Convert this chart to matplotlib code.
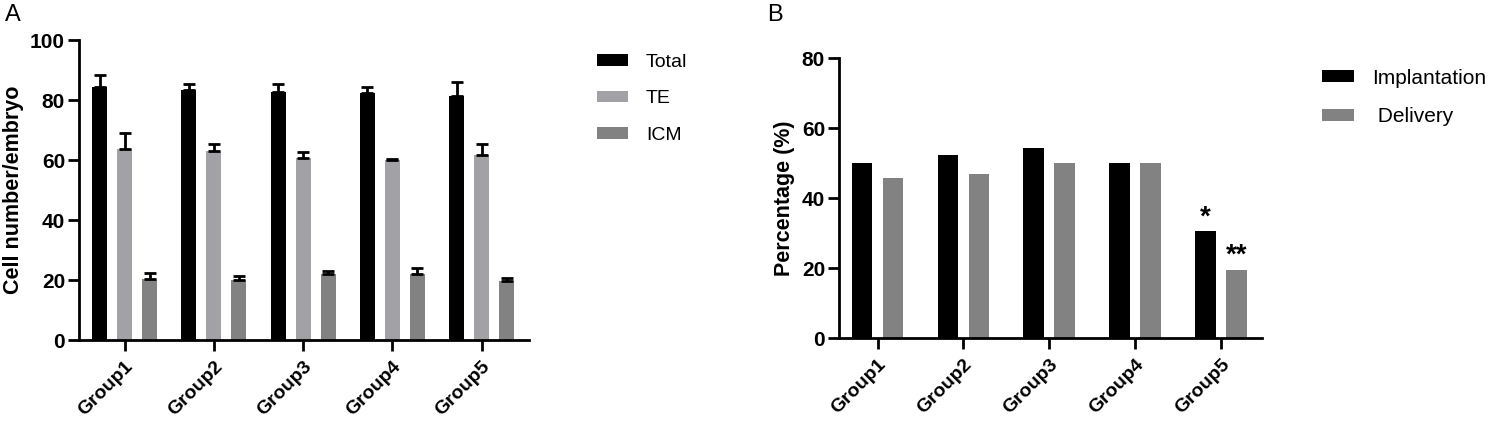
import numpy as np
import matplotlib
matplotlib.use('Agg')
import matplotlib.pyplot as plt

plt.rcParams['font.family'] = ['Liberation Sans', 'DejaVu Sans']

# panel A data
groups = ['Group1', 'Group2', 'Group3', 'Group4', 'Group5']
total = [84.4, 83.2, 82.8, 82.2, 81.5]
total_err = [4.1, 2.3, 2.5, 2.3, 4.6]
te = [63.7, 62.9, 60.6, 59.9, 61.6]
te_err = [5.4, 2.5, 2.1, 0.5, 3.8]
icm = [20.3, 20.1, 21.9, 22.1, 19.7]
icm_err = [2.0, 1.1, 1.0, 2.0, 0.9]

# panel B data
implantation = [50.0, 52.2, 54.2, 50.0, 30.5]
delivery = [45.6, 46.8, 50.0, 50.0, 19.4]
marks_impl = ['', '', '', '', '*']
marks_deliv = ['', '', '', '', '**']

BLACK = '#000000'
LIGHT = '#a2a2a6'
MID = '#828282'

fig = plt.figure(figsize=(14.96, 4.24), dpi=100)
axA = fig.add_axes([0.0528, 0.1981, 0.3008, 0.7075])
axB = fig.add_axes([0.5608, 0.2028, 0.2828, 0.6604])


def style_axis(ax):
    for s in ['top', 'right']:
        ax.spines[s].set_visible(False)
    for s in ['left', 'bottom']:
        ax.spines[s].set_linewidth(2)
    ax.tick_params(axis='both', width=2, length=8, direction='out')
    ax.tick_params(axis='y', labelsize=15, pad=2)
    ax.tick_params(axis='x', labelsize=14, pad=5)
    for lbl in ax.get_yticklabels():
        lbl.set_fontweight('bold')
    for lbl in ax.get_xticklabels():
        lbl.set_fontweight('bold')
        lbl.set_rotation(45)
        lbl.set_ha('right')
        lbl.set_rotation_mode('anchor')


x = np.arange(len(groups))

# ---- A
w = 0.168
off = 0.28
ekw = dict(elinewidth=2, capthick=2, capsize=4, ecolor='black')
axA.bar(x - off, total, w, color=BLACK, label='Total',
        yerr=[np.zeros(5), total_err], error_kw=ekw)
axA.bar(x, te, w, color=LIGHT, label='TE',
        yerr=[np.zeros(5), te_err], error_kw=ekw)
axA.bar(x + off, icm, w, color=MID, label='ICM',
        yerr=[np.zeros(5), icm_err], error_kw=ekw)
axA.set_xlim(-0.51, 4.53)
axA.set_ylim(0, 100)
axA.set_yticks([0, 20, 40, 60, 80, 100])
axA.set_xticks(x)
axA.set_xticklabels(groups)
axA.set_ylabel('Cell number/embryo', fontsize=15.5, fontweight='bold')
axA.yaxis.set_label_coords(-0.122, 0.5)
style_axis(axA)
axA.legend(loc='upper left', bbox_to_anchor=(0.399, 0.873),
           bbox_transform=fig.transFigure, frameon=False, fontsize=14,
           handlelength=1.6, handleheight=0.52, handletextpad=0.93,
           labelspacing=1.0, borderpad=0, borderaxespad=0)

# ---- B
wb = 0.24
offb = 0.18
axB.bar(x - offb, implantation, wb, color=BLACK, label='Implantation')
axB.bar(x + offb, delivery, wb, color=MID, label=' Delivery')
for i in range(len(groups)):
    if marks_impl[i]:
        axB.text(x[i] - offb, implantation[i] + 0.3, marks_impl[i],
                 ha='center', va='bottom', fontsize=20, fontweight='bold')
    if marks_deliv[i]:
        axB.text(x[i] + offb, delivery[i] + 0.3, marks_deliv[i],
                 ha='center', va='bottom', fontsize=20, fontweight='bold')
axB.set_xlim(-0.45, 4.48)
axB.set_ylim(0, 80)
axB.set_yticks([0, 20, 40, 60, 80])
axB.set_xticks(x)
axB.set_xticklabels(groups)
axB.set_ylabel('Percentage (%)', fontsize=15.5, fontweight='bold')
axB.yaxis.set_label_coords(-0.104, 0.5)
style_axis(axB)
axB.legend(loc='upper left', bbox_to_anchor=(0.884, 0.838),
           bbox_transform=fig.transFigure, frameon=False, fontsize=15,
           handlelength=1.5, handleheight=0.5, handletextpad=0.87,
           labelspacing=0.95, borderpad=0, borderaxespad=0)

fig.text(0.003, 0.99, 'A', fontsize=17, va='top', ha='left')
fig.text(0.513, 0.99, 'B', fontsize=17, va='top', ha='left')

fig.savefig('out.png', dpi=100)
